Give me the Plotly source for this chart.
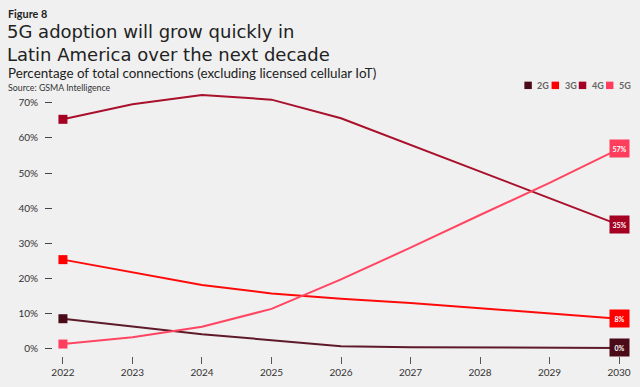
import plotly.graph_objects as go

years = [2022, 2023, 2024, 2025, 2026, 2027, 2028, 2029, 2030]
series_names = ["2G", "3G", "4G", "5G"]
g2 = [8.6, 6.3, 4.2, 2.5, 0.8, 0.5, 0.4, 0.3, 0.3]
g3 = [25.4, 21.7, 18.2, 15.8, 14.3, 13.1, 11.6, 10.1, 8.6]
g4 = [65.3, 69.6, 72.2, 70.9, 65.6, 58.0, 50.5, 43.0, 35.3]
g5 = [1.4, 3.3, 6.3, 11.4, 19.8, 28.8, 38.1, 47.2, 56.9]
end_labels = ["0%", "8%", "35%", "57%"]
y_ticks = [0, 10, 20, 30, 40, 50, 60, 70]
y_tick_text = ["0%", "10%", "20%", "30%", "40%", "50%", "60%", "70%"]

colors = ["#4a0a17", "#ff0000", "#a50021", "#ff3d5c"]
line_colors = ["#5e1a28", "#ff0a0a", "#a8102c", "#ff4562"]
data = [g2, g3, g4, g5]

FONT = "Lato"
TITLE_FONT = "DejaVu Sans"
W, H = 640, 387
ML, MR, MT, MB = 53, 9, 94, 28
PW, PH = W - ML - MR, H - MT - MB


def px(x):
    return (x - ML) / PW


def py(y):
    return (H - MB - y) / PH


fig = go.Figure()

for name, vals, c, lc in zip(series_names, data, colors, line_colors):
    fig.add_trace(go.Scatter(
        x=years, y=vals, mode="lines", line=dict(color=lc, width=2),
        showlegend=False, hoverinfo="skip"))
    fig.add_trace(go.Scatter(
        x=years[:1], y=vals[:1], mode="markers",
        marker=dict(symbol="square", size=9, color=c),
        showlegend=False, hoverinfo="skip"))

for vals, c, lab in zip(data, colors, end_labels):
    fig.add_annotation(x=years[-1], y=vals[-1], text=f"<b>{lab}</b>",
                       showarrow=False, bgcolor=c, width=17, height=15,
                       font=dict(family=FONT, size=7, color="white"),
                       xanchor="center", yanchor="middle")

# manual legend
leg_x0 = 526
for i, (name, c) in enumerate(zip(series_names, colors)):
    x0 = leg_x0 + i * 27.3
    fig.add_shape(type="rect", xref="paper", yref="paper",
                  x0=px(x0), x1=px(x0 + 7.5), y0=py(89), y1=py(81.5),
                  fillcolor=c, line=dict(width=0))
    fig.add_annotation(xref="paper", yref="paper", x=px(x0 + 11), y=py(85.5),
                       xanchor="left", yanchor="middle", text=f"<b>{name}</b>",
                       showarrow=False, font=dict(family=FONT, size=9, color="#666"))


def text_ann(txt, x, y, size, color="#222", family=FONT):
    fig.add_annotation(xref="paper", yref="paper", x=px(x), y=py(y), xanchor="left",
                       yanchor="middle", text=txt, showarrow=False, align="left",
                       font=dict(family=family, size=size, color=color))


text_ann("<b>Figure 8</b>", 6, 12.7, 10.8)
text_ann("5G adoption will grow quickly in<br>Latin America over the next decade",
         5, 42, 18, family=TITLE_FONT)
text_ann("Percentage of total connections (excluding licensed cellular IoT)", 6, 72.7, 13.4)
text_ann("Source: GSMA Intelligence", 6, 87, 8.8, "#333")

fig.update_layout(
    width=W, height=H,
    margin=dict(l=ML, r=MR, t=MT, b=MB),
    paper_bgcolor="#f0f0f0", plot_bgcolor="#f0f0f0",
    font=dict(family=FONT, color="#333"),
    showlegend=False,
    xaxis=dict(range=[2021.857, 2030.143], tickmode="array", tickvals=years,
               ticktext=[str(y) for y in years],
               showgrid=False, zeroline=False, showline=False,
               ticks="outside", ticklen=7, tickcolor="#555", tickwidth=1,
               tickfont=dict(family=FONT, size=10, color="#333")),
    yaxis=dict(range=[-2, 72.5], tickmode="array", tickvals=y_ticks, ticktext=y_tick_text,
               showgrid=False, zeroline=False, showline=False,
               ticks="outside", ticklen=7, tickcolor="#444", tickwidth=1,
               ticklabelstandoff=5,
               tickfont=dict(family=FONT, size=10, color="#333")),
)

fig.write_html("out.html", config={"displayModeBar": False},
               post_script="document.body.style.margin='0';document.body.style.background='#f0f0f0';")
